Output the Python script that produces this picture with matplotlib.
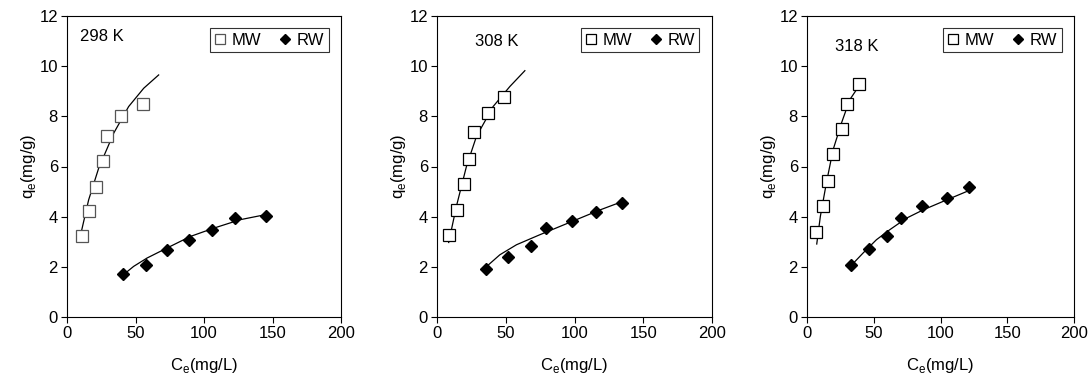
import matplotlib.pyplot as plt

plt.rcParams['font.family'] = ['Liberation Sans', 'DejaVu Sans']

temps = ["298 K", "308 K", "318 K"]

# measured points, MW (open squares) and RW (filled diamonds)
mw_x = [[11.2, 16.0, 21.2, 26.3, 29.4, 39.7, 55.5],
        [8.7, 14.6, 19.7, 23.3, 27.0, 36.9, 48.8],
        [7.0, 12.3, 15.8, 19.8, 26.3, 29.8, 38.8]]
mw_y = [[3.21, 4.23, 5.2, 6.2, 7.22, 8.02, 8.5],
        [3.27, 4.27, 5.3, 6.29, 7.37, 8.15, 8.76],
        [3.37, 4.41, 5.44, 6.48, 7.51, 8.5, 9.27]]
rw_x = [[40.9, 57.9, 73.0, 89.0, 105.8, 122.4, 145.3],
        [35.5, 51.8, 68.0, 79.2, 98.2, 115.7, 134.4],
        [33.0, 46.3, 60.0, 70.5, 86.0, 104.8, 121.5]]
rw_y = [[1.73, 2.06, 2.67, 3.08, 3.48, 3.94, 4.01],
        [1.91, 2.39, 2.85, 3.53, 3.81, 4.19, 4.54],
        [2.06, 2.72, 3.24, 3.94, 4.41, 4.74, 5.18]]

# fitted curves
mw_fit_x = [[10.5, 15.8, 23.1, 34.1, 45.0, 56.0, 66.9],
            [8.5, 14.1, 21.4, 28.7, 40.8, 53.0, 63.9],
            [7.3, 10.0, 14.5, 19.5, 25.8, 32.0, 38.3]]
mw_fit_y = [[3.41, 4.67, 5.93, 7.33, 8.39, 9.12, 9.65],
            [2.97, 4.41, 6.0, 7.2, 8.39, 9.19, 9.82],
            [2.91, 4.01, 5.34, 6.66, 7.73, 8.66, 9.16]]
rw_fit_x = [[42.6, 48.7, 58.4, 73.0, 90.0, 107.0, 126.5, 144.8],
            [33.5, 45.7, 57.8, 74.8, 89.4, 104.0, 118.6, 133.2],
            [32.5, 42.0, 52.0, 62.0, 74.5, 87.0, 102.0, 119.5]]
rw_fit_y = [[1.75, 2.02, 2.35, 2.75, 3.21, 3.54, 3.88, 4.08],
            [1.89, 2.48, 2.88, 3.28, 3.61, 3.94, 4.27, 4.57],
            [2.02, 2.55, 3.08, 3.48, 3.94, 4.27, 4.61, 5.0]]

label_pos = [(9.7, 11.2), (27.5, 11.0), (20.8, 10.8)]

fig = plt.figure(figsize=(10.92, 3.78), dpi=100)
W, H = 1092, 378
boxes = [(67, 341), (437, 712), (807, 1074)]
top, bottom = 16, 317
fs = 12

for i, (l, r) in enumerate(boxes):
    ax = fig.add_axes([l / W, 1 - bottom / H, (r - l) / W, (bottom - top) / H])
    ax.plot(mw_fit_x[i], mw_fit_y[i], color='black', lw=0.9, zorder=2)
    ax.plot(rw_fit_x[i], rw_fit_y[i], color='black', lw=0.9, zorder=2)
    edge = '#555555' if i == 0 else 'black'
    ax.plot(mw_x[i], mw_y[i], ls='none', marker='s', ms=8, mfc='white',
            mec=edge, mew=0.9, label='MW', zorder=3)
    ax.plot(rw_x[i], rw_y[i], ls='none', marker='D', ms=5.8, mfc='black',
            mec='black', label='RW', zorder=3)
    ax.set_xlim(0, 200)
    ax.set_ylim(0, 12)
    ax.set_xticks([0, 50, 100, 150, 200])
    ax.set_yticks(range(0, 13, 2))
    ax.tick_params(direction='out', length=4.5, width=0.8, labelsize=fs,
                   colors='black', pad=2)
    for s in ax.spines.values():
        s.set_linewidth(0.8)
    ax.set_xlabel('C$_\\mathregular{e}$(mg/L)', fontsize=fs, labelpad=11)
    ax.set_ylabel('q$_\\mathregular{e}$(mg/g)', fontsize=fs, labelpad=1)
    ax.text(label_pos[i][0], label_pos[i][1], temps[i], fontsize=fs,
            va='center', ha='left')
    leg = ax.legend(loc='upper right', ncol=2, fontsize=fs, frameon=True,
                    fancybox=False, edgecolor='black', handlelength=0.7,
                    handletextpad=0.35, columnspacing=1.1, borderpad=0.25,
                    borderaxespad=0.75, markerscale=0.9)
    leg.get_frame().set_linewidth(0.8)

fig.savefig('out.png', dpi=100)
